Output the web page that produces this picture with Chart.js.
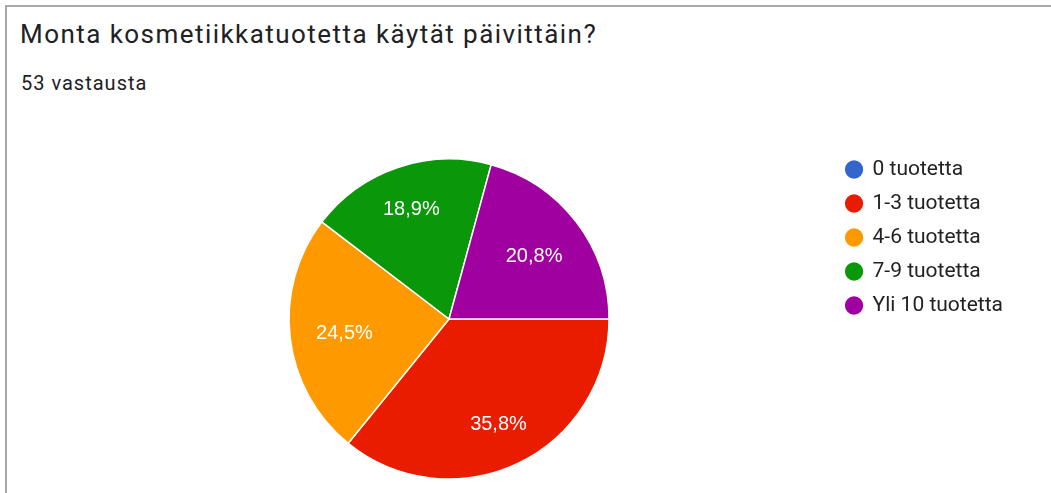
<!DOCTYPE html>
<html>
<head>
<meta charset="utf-8">
<script src="https://cdn.jsdelivr.net/npm/chart.js@4.4.1/dist/chart.umd.min.js"></script>
<style>
  html, body { margin: 0; padding: 0; background: #fff; }
  #wrap { position: relative; width: 1051px; height: 493px; overflow: hidden; font-family: Roboto, Arial, sans-serif; }
  #frame { position: absolute; left: 5px; top: 5px; right: -10px; bottom: -10px;
           border-left: 2px solid #a8a8a8; border-top: 2px solid #a8a8a8; }
  #title { position: absolute; left: 20px; top: 21px; font-size: 26px; line-height: 26px; letter-spacing: 1.45px; color: #202124; white-space: nowrap; }
  #sub { position: absolute; left: 21px; top: 73px; font-size: 20px; line-height: 20px; letter-spacing: 1px; color: #202124; white-space: nowrap; }
  #chart { position: absolute; left: 0; top: 0; }
</style>
</head>
<body>
<div id="wrap">
  <div id="frame"></div>
  <div id="title">Monta kosmetiikkatuotetta käytät päivittäin?</div>
  <div id="sub">53 vastausta</div>
  <canvas id="chart" width="1051" height="493"></canvas>
</div>
<script>
// Answer options and response counts (53 responses in total)
const categories = ['0 tuotetta', '1-3 tuotetta', '4-6 tuotetta', '7-9 tuotetta', 'Yli 10 tuotetta'];
const counts = [0, 19, 13, 10, 11];
const sliceColors = ['#3366cc', '#ea1c00', '#ff9900', '#0a980a', '#a0009f'];

const total = counts.reduce((a, b) => a + b, 0);
const pctText = v => (v / total * 100).toFixed(1).replace('.', ',') + '%';

// Percentage labels inside each slice, pushed outwards along the slice's
// middle angle so that the text box stays a fixed distance from the rim.
const sliceLabels = {
  id: 'sliceLabels',
  afterDatasetsDraw(chart) {
    const ctx = chart.ctx;
    const meta = chart.getDatasetMeta(0);
    ctx.save();
    ctx.font = '20px "Liberation Sans", Arial, sans-serif';
    ctx.fillStyle = '#ffffff';
    ctx.textAlign = 'center';
    ctx.textBaseline = 'middle';
    meta.data.forEach((arc, i) => {
      const v = counts[i];
      if (!v) return;
      const p = arc.getProps(['x', 'y', 'startAngle', 'endAngle', 'outerRadius'], true);
      const mid = (p.startAngle + p.endAngle) / 2;
      const txt = pctText(v);
      const hw = ctx.measureText(txt).width / 2;
      const hh = 8;
      const c = Math.cos(mid), s = Math.sin(mid);
      const r = p.outerRadius * 0.84 - (hw * Math.abs(c) + hh * Math.abs(s));
      // digits sit above the em-box middle, so nudge down to centre them visually
      ctx.fillText(txt, p.x + c * r, p.y + s * r + 2);
    });
    ctx.restore();
  }
};

new Chart(document.getElementById('chart'), {
  type: 'pie',
  data: {
    labels: categories,
    datasets: [{
      data: counts,
      backgroundColor: sliceColors,
      borderColor: '#ffffff',
      borderWidth: 1.5,
      radius: 160
    }]
  },
  options: {
    responsive: false,
    animation: false,
    rotation: 90,
    layout: { padding: { left: 65, top: 146, right: 38, bottom: 1 } },
    plugins: {
      tooltip: { enabled: false },
      legend: {
        position: 'right',
        align: 'start',
        fullSize: false,
        labels: {
          usePointStyle: true,
          pointStyle: 'circle',
          boxWidth: 16,
          boxHeight: 14,
          padding: 13,
          color: '#222222',
          font: { family: 'Roboto, Arial, sans-serif', size: 21 }
        }
      }
    }
  },
  plugins: [sliceLabels]
});
</script>
</body>
</html>
